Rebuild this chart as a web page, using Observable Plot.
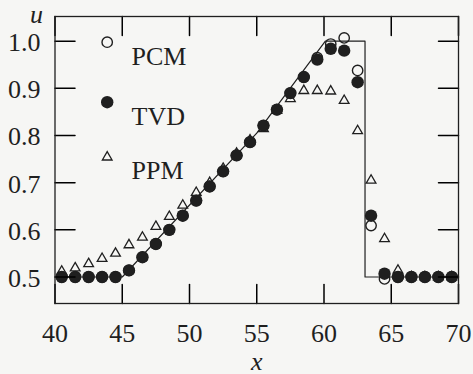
<!DOCTYPE html>
<html>
<head>
<meta charset="utf-8">
<script src="https://cdn.jsdelivr.net/npm/d3@7"></script>
<script src="https://cdn.jsdelivr.net/npm/@observablehq/plot@0.6"></script>
<style>
  html, body { margin: 0; padding: 0; background: #f6f6f4; }
  #chart svg { display: block; }
</style>
</head>
<body>
<div id="chart"></div>
<script>
// Cell-centre positions of the grid
const xs = [40.5, 41.5, 42.5, 43.5, 44.5, 45.5, 46.5, 47.5, 48.5, 49.5,
            50.5, 51.5, 52.5, 53.5, 54.5, 55.5, 56.5, 57.5, 58.5, 59.5,
            60.5, 61.5, 62.5, 63.5, 64.5, 65.5, 66.5, 67.5, 68.5, 69.5];

// Piecewise-constant method
const pcm = [0.500, 0.500, 0.500, 0.500, 0.500, 0.514, 0.542, 0.570, 0.600, 0.630,
             0.662, 0.692, 0.724, 0.758, 0.786, 0.821, 0.855, 0.890, 0.924, 0.965,
             0.994, 1.007, 0.938, 0.609, 0.496, 0.500, 0.500, 0.500, 0.500, 0.500];

// TVD scheme
const tvd = [0.500, 0.500, 0.500, 0.500, 0.500, 0.514, 0.542, 0.570, 0.600, 0.630,
             0.662, 0.692, 0.724, 0.758, 0.786, 0.821, 0.855, 0.890, 0.924, 0.961,
             0.984, 0.980, 0.913, 0.630, 0.507, 0.500, 0.500, 0.500, 0.500, 0.500];

// Piecewise-parabolic method
const ppm = [0.512, 0.519, 0.528, 0.539, 0.550, 0.568, 0.584, 0.607, 0.628, 0.652,
             0.679, 0.700, 0.730, 0.762, 0.790, 0.814, 0.853, 0.878, 0.895, 0.895,
             0.894, 0.874, 0.810, 0.705, 0.581, 0.514, 0.500, 0.500, 0.500, 0.500];

// Exact solution
const exactX = [40, 45, 55, 60.1, 63.05, 63.05, 70];
const exactU = [0.5, 0.5, 0.805, 1.0, 1.0, 0.5, 0.5];

// Axis ticks
const xTicks = [40, 45, 50, 55, 60, 65, 70];
const yTicks = [0.5, 0.6, 0.7, 0.8, 0.9, 1.0];

// Legend entries
const legendNames = ["PCM", "TVD", "PPM"];

const ink = "#1f1f1f";
const serif = "Liberation Serif";
const txt = {fontFamily: serif, fontSize: 26, fill: ink};

const W = 473, H = 374;
const mTop = 16, mRight = 15, mBottom = 71, mLeft = 54.5;
const xDomain = [40, 70];
const yDomain = [0.4438, 1.0524];

// inward tick lengths (px), converted to data units
const xTickLen = 19, yTickLen = 20;
const yPerPx = (yDomain[1] - yDomain[0]) / (H - mTop - mBottom);
const xPerPx = (xDomain[1] - xDomain[0]) / (W - mLeft - mRight);
const xTickDy = xTickLen * yPerPx;
const yTickDx = yTickLen * xPerPx;

// short two-point segments for the inward ticks on all four sides
const tickSegs = [];
for (const t of xTicks) {
  tickSegs.push({id: `b${t}`, x: t, y: yDomain[0]}, {id: `b${t}`, x: t, y: yDomain[0] + xTickDy});
  tickSegs.push({id: `t${t}`, x: t, y: yDomain[1] - xTickDy}, {id: `t${t}`, x: t, y: yDomain[1]});
}
for (const t of yTicks) {
  tickSegs.push({id: `l${t}`, x: xDomain[0], y: t}, {id: `l${t}`, x: xDomain[0] + yTickDx, y: t});
  tickSegs.push({id: `r${t}`, x: xDomain[1] - yTickDx, y: t}, {id: `r${t}`, x: xDomain[1], y: t});
}

const rows = xs.map((x, i) => ({x, pcm: pcm[i], tvd: tvd[i], ppm: ppm[i]}));
const exact = exactX.map((x, i) => ({x, u: exactU[i]}));

const chart = Plot.plot({
  width: W,
  height: H,
  marginLeft: mLeft,
  marginRight: mRight,
  marginTop: mTop,
  marginBottom: mBottom,
  x: {domain: xDomain},
  y: {domain: yDomain},
  marks: [
    // exact solution
    Plot.line(exact, {x: "x", y: "u", stroke: ink, strokeWidth: 1.2}),

    // numerical solutions
    Plot.dot(rows, {x: "x", y: "ppm", symbol: "triangle", r: 3.6, stroke: ink, strokeWidth: 1.3, fill: "none"}),
    Plot.dot(rows, {x: "x", y: "pcm", symbol: "circle", r: 5.2, stroke: ink, strokeWidth: 1.4, fill: "none"}),
    Plot.dot(rows, {x: "x", y: "tvd", symbol: "circle", r: 6.2, fill: ink, stroke: "none"}),

    // inward ticks
    Plot.line(tickSegs, {x: "x", y: "y", z: "id", stroke: "black", strokeWidth: 1.5}),

    // tick labels
    Plot.axisX(xTicks, {anchor: "bottom", tickSize: 0, tickPadding: 20, label: null, ...txt}),
    Plot.axisY(yTicks, {anchor: "left", tickSize: 0, tickPadding: 14.5, label: null, dy: 1.5,
                        tickFormat: d3.format(".1f"), ...txt}),

    // axis titles
    Plot.text(["u"], {frameAnchor: "top-left", dx: -25, dy: -12, fontStyle: "italic", ...txt}),
    Plot.text(["x"], {frameAnchor: "bottom", dy: 66, fontStyle: "italic", ...txt}),

    // legend
    Plot.dot([legendNames[0]], {frameAnchor: "top-left", dx: 52.2, dy: 25.7, r: 5.2, stroke: ink, strokeWidth: 1.4, fill: "none"}),
    Plot.dot([legendNames[1]], {frameAnchor: "top-left", dx: 52.2, dy: 85.7, r: 6.2, fill: ink}),
    Plot.dot([legendNames[2]], {frameAnchor: "top-left", dx: 52.2, dy: 140.7, symbol: "triangle", r: 3.6, stroke: ink, strokeWidth: 1.3, fill: "none"}),
    Plot.text([legendNames[0]], {text: d => d, frameAnchor: "top-left", dx: 76.5, dy: 48, textAnchor: "start", lineAnchor: "bottom", ...txt}),
    Plot.text([legendNames[1]], {text: d => d, frameAnchor: "top-left", dx: 76.5, dy: 108, textAnchor: "start", lineAnchor: "bottom", ...txt}),
    Plot.text([legendNames[2]], {text: d => d, frameAnchor: "top-left", dx: 76.5, dy: 162.3, textAnchor: "start", lineAnchor: "bottom", ...txt}),

    Plot.frame({stroke: ink, strokeWidth: 1.3})
  ]
});

document.getElementById("chart").append(chart);
</script>
</body>
</html>
